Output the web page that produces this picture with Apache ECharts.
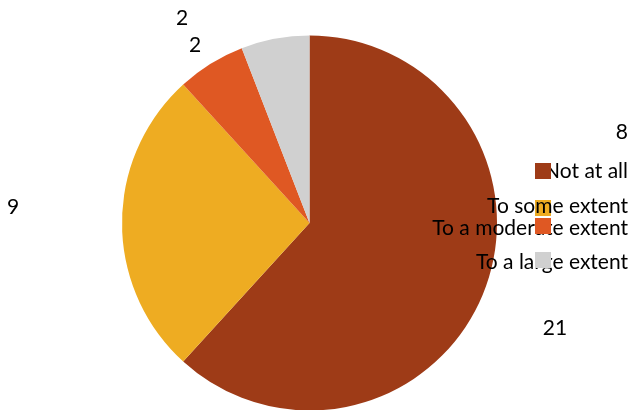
<!DOCTYPE html>
<html><head><meta charset="utf-8">
<script src="https://cdn.jsdelivr.net/npm/echarts@6/dist/echarts.min.js"></script>
<style>html,body{margin:0;padding:0;background:#fff}#c{width:632px;height:410px}</style>
</head><body><div id="c"></div>
<script>
const categories = ["Not at all", "To some extent", "To a moderate extent", "To a large extent"];
const values = [21, 9, 2, 2];
const extraText = "8";

const colors = ["#9E3B17", "#EEAC22", "#DF5823", "#D0D0D0"];
const FONT = "Lato";
const FS = 21;
const labelPos = [[555, 328], [13, 207], [195, 45], [182, 18]];
const legendTextY = [173, 208, 230, 264];
const legendIconY = [163, 200, 218, 252];
const textOnTop = [false, true, false, false];

const chart = echarts.init(document.getElementById('c'));
const legends = categories.map((name, i) => ({
  data: [name], left: 535, top: legendIconY[i], itemWidth: 16, itemHeight: 16, z: 10,
  icon: 'rect', formatter: () => '', itemGap: 0, padding: 0, selectedMode: false,
  textStyle: {fontSize: 1}
}));
chart.setOption({
  animation: false,
  color: colors,
  title: {text: extraText, right: 4, top: 122, padding: 0, textStyle: {fontFamily: FONT, fontWeight: 'normal', fontSize: FS, color: '#000'}},
  legend: legends,
  graphic: categories.map((name, i) => ({
    type: 'text', right: 4, top: legendTextY[i] - 12, z: textOnTop[i] ? 20 : 5,
    style: {text: name, font: FS + 'px ' + FONT, fill: '#000'}
  })),
  series: [{
    type: 'pie', center: [309.5, 223], radius: 187.5, startAngle: 90, clockwise: true, z: 2,
    data: categories.map((n, i) => ({name: n, value: values[i]})),
    label: {show: true, formatter: '{c}', fontFamily: FONT, fontSize: FS, color: '#000', position: 'outside'},
    labelLine: {show: false},
    labelLayout: (p) => ({x: labelPos[p.dataIndex][0], y: labelPos[p.dataIndex][1], align: 'center', verticalAlign: 'middle'}),
    itemStyle: {borderWidth: 0}
  }]
});
</script></body></html>
